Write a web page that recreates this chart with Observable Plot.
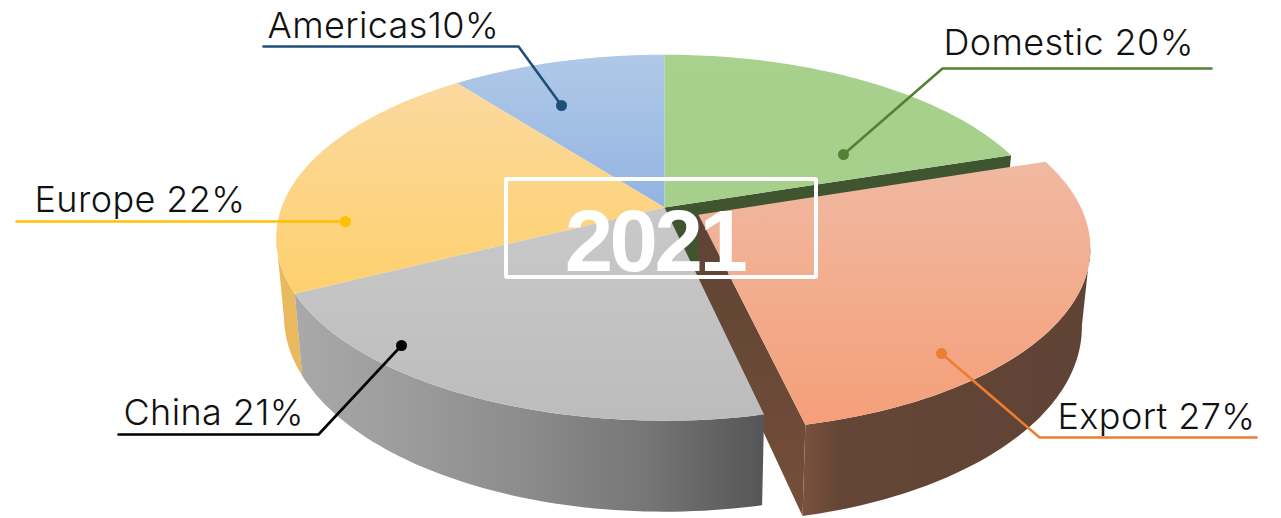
<!DOCTYPE html>
<html>
<head>
<meta charset="utf-8">
<script src="https://cdn.jsdelivr.net/npm/d3@7"></script>
<script src="https://cdn.jsdelivr.net/npm/@observablehq/plot@0.6"></script>
<style>
html,body{margin:0;padding:0;background:#fff}svg{display:block}
</style>
</head>
<body>
<div id="chart"></div>
<script>
// DATA
const segments = ["Americas", "Domestic", "Export", "China", "Europe"];
const shares = [10.5, 20, 26.5, 21.1, 21.9];
const labels = ["Americas10%", "Domestic 20%", "Export 27%", "China 21%", "Europe 22%"];
const centreTitle = "2021";

// STYLE
const topTones = {
  Americas: ["#afc9e7", "#93b3e2"], Domestic: ["#a9d18e", "#a5cf8b"], Export: ["#f0b9a2", "#f59f79"],
  China: ["#c9c9c9", "#bcbcbc"], Europe: ["#fbd99f", "#fed06d"]
};
const leaderTones = {Americas: "#1f4e79", Domestic: "#538135", Export: "#ed7d31", China: "#000000", Europe: "#ffc000"};

// LAYOUT (annotation placement, in page pixels): dot, elbow, tail, label anchor
const annotation = {
  Americas: {dot: [561, 105], elbow: [518, 46], tail: [263, 46], text: [267, 37]},
  Domestic: {dot: [843, 154], elbow: [942, 68], tail: [1211, 68], text: [943, 54]},
  Export:   {dot: [941, 353], elbow: [1039, 437], tail: [1256, 437], text: [1057, 428]},
  China:    {dot: [401, 345], elbow: [318, 434], tail: [118, 434], text: [123, 424]},
  Europe:   {dot: [345, 221], elbow: [345, 221], tail: [16, 221], text: [34, 211]}
};

// Pie projection: unit circle in a tilted plane, with simple perspective
const W = 1281, H = 518;
const cam = {cx: 664, cy: 207, a: 383, b: 178, p: 0.165, h: 76, shrink: 0.02};
const explode = {Export: [0.088, 0.04]};
const rimTurn = {right: 100, left: 260}; // where the rim turns away from the viewer
function project(X, Y, Z) {
  const w = 1 - cam.p * Y;
  return [cam.cx + cam.a * X / w * (1 - cam.shrink * Z), cam.cy + cam.b * Y / w + cam.h * Z / w];
}
let run = -360 * shares[0] / 100;
const slices = segments.map((name, i) => {
  const from = run, to = run + 360 * shares[i] / 100;
  run = to;
  const [ox, oy] = explode[name] || [0, 0];
  return {name, from, to, ox, oy};
});
const bySlice = Object.fromEntries(slices.map(s => [s.name, s]));
const pt = (s, deg, r, Z) => {
  const t = deg * Math.PI / 180;
  return project(s.ox + r * Math.sin(t), s.oy - r * Math.cos(t), Z);
};
const arc = (s, a0, a1, Z) => d3.range(0, 61).map(k => pt(s, a0 + (a1 - a0) * k / 60, 1, Z));
const poly = (id, pts) => pts.map(([x, y]) => ({id, x, y}));
const topFace = s => poly(s.name, [pt(s, 0, 0, 0), ...arc(s, s.from, s.to, 0)]);
const sideFace = (s, a0, a1) => poly(s.name + "-side", [...arc(s, a0, a1, 0), ...arc(s, a1, a0, 1)]);
const cutFace = (s, deg) => poly(s.name + "-cut" + deg, [pt(s, 0, 0, 0), pt(s, deg, 1, 0), pt(s, deg, 1, 1), pt(s, 0, 0, 1)]);

const shape = (rows, fill) => Plot.line(rows, {x: "x", y: "y", z: "id", fill, stroke: "none", curve: "linear-closed"});

const gradient = (defs, id, stops, horizontal) => {
  const g = defs.append("linearGradient").attr("id", id).attr("x1", 0).attr("y1", 0)
    .attr("x2", horizontal ? 1 : 0).attr("y2", horizontal ? 0 : 1);
  stops.forEach(([o, c]) => g.append("stop").attr("offset", o).attr("stop-color", c));
};
const defsMark = () => {
  const svg = d3.create("svg:g");
  const defs = svg.append("defs");
  for (const name of segments) gradient(defs, "top-" + name, [[0, topTones[name][0]], [1, topTones[name][1]]]);
  gradient(defs, "side-China", [[0, "#a9a9a9"], [0.25, "#9b9b9b"], [0.5, "#8b8b8b"], [0.75, "#767676"], [0.93, "#5e5e5e"], [1, "#545658"]], true);
  gradient(defs, "side-Export", [[0, "#7a523c"], [0.12, "#654636"], [1, "#5f4335"]], true);
  gradient(defs, "cut-Export", [[0, "#5d4334"], [1, "#754e39"]]);
  return svg.node();
};

const leaderRows = segments.flatMap(name => {
  const n = annotation[name];
  return [n.dot, n.elbow, n.tail].map(([x, y]) => ({id: name, x, y, c: leaderTones[name]}));
});
const labelRows = segments.map((name, i) => ({x: annotation[name].text[0], y: annotation[name].text[1], t: labels[i]}));
const dotRows = segments.map(name => ({x: annotation[name].dot[0], y: annotation[name].dot[1], c: leaderTones[name]}));
const titleBox = [{x1: 506, x2: 816, y1: 179, y2: 277}];

const plot = Plot.plot({
  width: W, height: H, margin: 0,
  x: {domain: [0, W], range: [0, W], axis: null},
  y: {domain: [0, H], range: [0, H], axis: null},
  style: {background: "#fff", overflow: "hidden"},
  marks: [
    defsMark,
    shape(cutFace(bySlice.Domestic, bySlice.Domestic.to), "#3f5530"),
    shape(cutFace(bySlice.Export, bySlice.Export.to), "url(#cut-Export)"),
    shape(sideFace(bySlice.Export, rimTurn.right, bySlice.Export.to), "url(#side-Export)"),
    shape(sideFace(bySlice.Europe, bySlice.Europe.from, rimTurn.left), "#e9b95f"),
    shape(sideFace(bySlice.China, bySlice.China.from, bySlice.China.to), "url(#side-China)"),
    ...["Americas", "Europe", "China", "Domestic", "Export"].map(n => shape(topFace(bySlice[n]), `url(#top-${n})`)),
    Plot.line(leaderRows, {x: "x", y: "y", z: "id", stroke: "c", strokeWidth: 2.6, strokeLinejoin: "miter"}),
    Plot.dot(dotRows, {x: "x", y: "y", r: 5.5, fill: "c", stroke: "none"}),
    Plot.text(labelRows, {x: "x", y: "y", text: "t", textAnchor: "start", lineAnchor: "bottom", fontSize: 36, fontWeight: 300, fontFamily: "Inter, sans-serif", fill: "#111"}),
    Plot.rect(titleBox, {x1: "x1", x2: "x2", y1: "y1", y2: "y2", fill: "none", stroke: "#fff", strokeWidth: 4, rx: 1}),
    Plot.text([centreTitle], {x: [654], y: [243], text: d => d, textAnchor: "middle", lineAnchor: "middle", fontSize: 87, fontWeight: 700, fontFamily: "'Liberation Sans', sans-serif", fill: "#fff"})
  ]
});
d3.select(plot).selectAll("text").each(function () {
  d3.select(this).style("letter-spacing", this.textContent === centreTitle ? "-3.5px" : "0.4px");
});
document.getElementById("chart").append(plot);
</script>
</body>
</html>
